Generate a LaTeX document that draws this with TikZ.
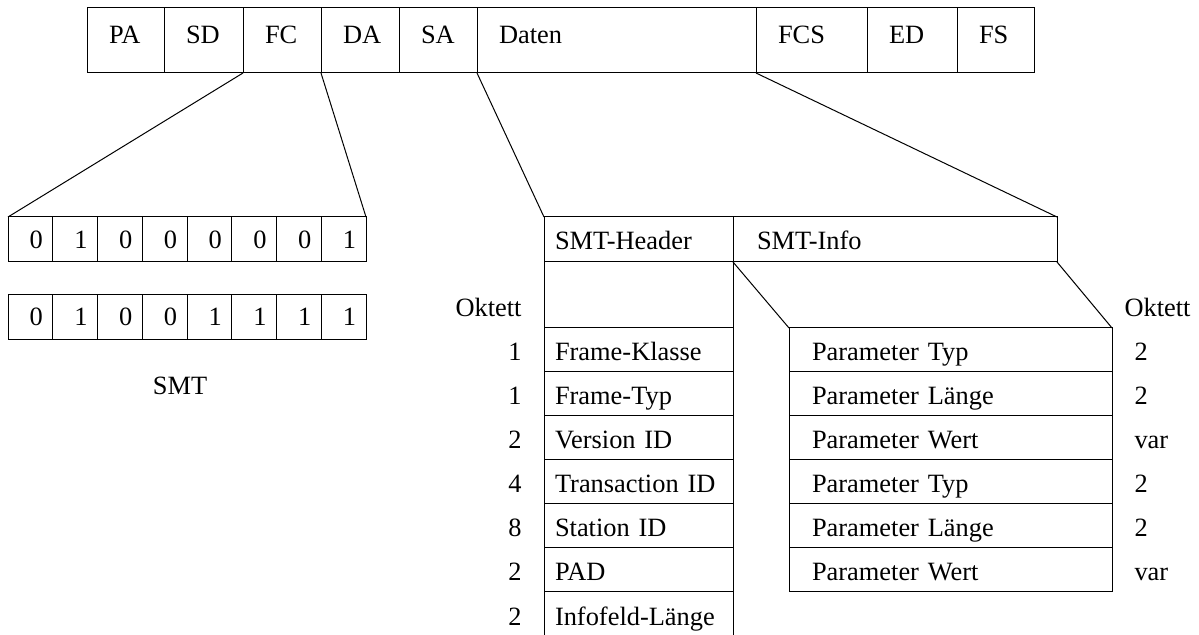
\documentclass[tikz,border=0pt]{standalone}
\usepackage{fontspec}
\setmainfont{Liberation Serif}
\usepackage{tikz}
\usetikzlibrary{positioning}

\begin{document}
\begin{tikzpicture}[x=0.5pt, y=-0.5pt, line width=0.5pt,
  font=\fontsize{13.2}{16}\selectfont,
  field/.style={draw, outer sep=0pt, inner sep=0pt, inner xsep=11pt, minimum height=32.5pt, text width=#1-22pt, align=left, text height=7pt, text depth=3.5pt},
  bitcell/.style={draw, outer sep=0pt, inner sep=0pt, inner xsep=5pt, minimum height=22.5pt, text width=12.375pt, align=right},
  col/.style={outer sep=0pt, inner sep=0pt, inner xsep=5.5pt, text width=83.5pt, minimum height=22pt, align=left, text height=11pt, text depth=0pt},
  prm/.style={draw, outer sep=0pt, inner sep=0pt, inner xsep=11.5pt, text width=138.5pt, minimum height=22pt, align=left, text height=11pt, text depth=0pt},
  num/.style={inner sep=0pt, text height=11pt, text depth=0pt}]
\useasboundingbox (0,0) rectangle (1199,635);

\node[field=38.5pt] (pa) at (125.5,40.5) {PA};
\node[field=39.5pt, right=0pt of pa] (sd) {SD};
\node[field=39pt, right=0pt of sd] (fc) {FC};
\node[field=39pt, right=0pt of fc] (da) {DA};
\node[field=39pt, right=0pt of da] (sa) {SA};
\node[field=139.5pt, right=0pt of sa] (daten) {Daten};
\node[field=55.5pt, right=0pt of daten] (fcs) {FCS};
\node[field=45pt, right=0pt of fcs] (ed) {ED};
\node[field=38.5pt, right=0pt of ed] (fs) {FS};

% FC bits
\foreach \b [count=\i] in {0,1,0,0,0,0,0,1}
  \node[bitcell] (a\i) at ({8+(\i-0.5)*44.75},239.5) {\b};
\foreach \b [count=\i] in {0,1,0,0,1,1,1,1}
  \node[bitcell] (c\i) at ({8+(\i-0.5)*44.75},317) {\b};
\node[num] (smt) at (180,384) {SMT};

% SMT header
\node[col, draw, minimum height=22.5pt, text height=10pt] (hdr) at (638.5,239.5) {SMT-Header};
\node[draw, outer sep=0pt, inner sep=0pt, inner xsep=12pt, text width=138pt, minimum height=22.5pt, align=left, text height=10pt, text depth=0pt, right=0pt of hdr] (info) {SMT-Info};
\foreach \t [count=\i] in {Frame-Klasse, Frame-Typ, Version ID, Transaction ID, Station ID, PAD, Infofeld-Länge}
  \node[col] (r\i) at (638.5,{350+(\i-1)*44}) {\t};
\foreach \n [count=\i] in {1,1,2,4,8,2,2}
  \node[num, left=11pt of r\i] (n\i) {\n};
\foreach \i in {1,...,7}
  \draw (r\i.north west) -- (r\i.north east);
\coordinate (bot) at (0,635);
\draw (hdr.south west) -- (hdr.south west |- bot);
\draw (hdr.south east) -- (hdr.south east |- bot);
\node[num, anchor=east] (okl) at (522,306) {Oktett};

% SMT info
\foreach \t [count=\i] in {Parameter Typ, Parameter Länge, Parameter Wert, Parameter Typ, Parameter Länge, Parameter Wert}
  \node[prm] (p\i) at (950.5,{350+(\i-1)*44}) {\t};
\foreach \n [count=\i] in {2,2,var,2,2,var}
  \node[num, right=11pt of p\i] (m\i) {\n};
\node[num, anchor=west] (okr) at (1124,306) {Oktett};

\draw (fc.south west) -- (a1.north west);
\draw (fc.south east) -- (a8.north east);
\draw (daten.south west) -- (hdr.north west);
\draw (daten.south east) -- (info.north east);
\draw (info.south west) -- (p1.north west);
\draw (info.south east) -- (p1.north east);
\end{tikzpicture}
\end{document}
